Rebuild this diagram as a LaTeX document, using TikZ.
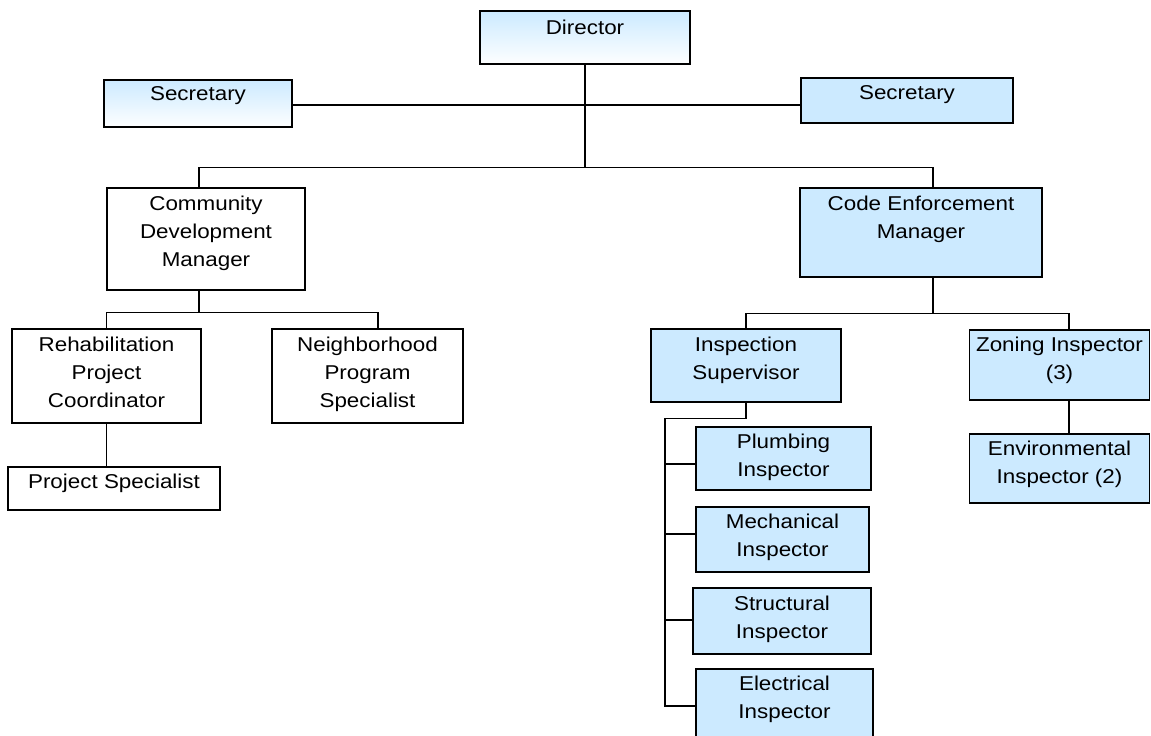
\documentclass[tikz,border=0pt]{standalone}
\usepackage{fontspec}
\setmainfont{Liberation Sans}[FakeStretch=1.12]
\usepackage{tikz}
\usetikzlibrary{positioning, calc}
\usepackage{xcolor}
\definecolor{staffblue}{RGB}{204,234,255}
\tikzset{
  unitbox/.style={draw=black, line width=1.4pt, inner sep=0pt},
  bluebox/.style={unitbox, fill=staffblue},
  fadebox/.style={unitbox, top color=staffblue, bottom color=white!97!staffblue},
  whitebox/.style={unitbox, fill=white},
  boxtext/.style={inner sep=0pt, align=center, font=\fontsize{20}{28}\selectfont},
  link/.style={line width=1.2pt},
}
\begin{document}
\begin{tikzpicture}[x=1pt, y=-1pt]
    \useasboundingbox (0,0) rectangle (1151,736);
    %% top level
    \node[fadebox, minimum width=210pt, minimum height=53pt] (dir) at (585,37.5) {};
    \node[fadebox, minimum width=188pt, minimum height=47pt] (secl) at (198,103.5) {};
    \node[bluebox, minimum width=212pt, minimum height=45pt] (secr) at (907,100.5) {};
    %% managers
    \node[whitebox, minimum width=198pt, minimum height=102pt] (cdm) at (206,239) {};
    \node[bluebox, minimum width=242pt, minimum height=89pt] (cem) at (921,232.5) {};
    %% community development side
    \node[whitebox, minimum width=189pt, minimum height=94pt] (rehab) at (106.5,376) {};
    \node[whitebox, minimum width=191pt, minimum height=94pt] (nbr) at (367.5,376) {};
    \node[whitebox, minimum width=212pt, minimum height=43pt] (ps) at (114,488.5) {};
    %% code enforcement side
    \node[bluebox, minimum width=190pt, minimum height=73pt] (insp) at (746,365.5) {};
    \node[bluebox, minimum width=180pt, minimum height=70pt] (zon) at (1059.5,365) {};
    \node[bluebox, minimum width=180pt, minimum height=69pt] (env) at (1059.5,468.5) {};
    \node[bluebox, minimum width=175pt, minimum height=63pt] (plumb) at (783.5,458.5) {};
    \node[bluebox, minimum width=173pt, minimum height=65pt] (mech) at (782.5,539.5) {};
    \node[bluebox, minimum width=178pt, minimum height=66pt] (struct) at (782,621) {};
    \node[bluebox, minimum width=177pt, minimum height=71pt] (elec) at (784.5,704.5) {};
    %% texts
    \node[boxtext, below=10pt of dir.north] (dirtext) {Director};
    \node[boxtext, below=7.5pt of secl.north] (secltext) {Secretary};
    \node[boxtext, below=8pt of secr.north] (secrtext) {Secretary};
    \node[boxtext, below=9pt of cdm.north] (cdmtext) {Community\\Development\\Manager};
    \node[boxtext, below=9pt of cem.north] (cemtext) {Code Enforcement\\Manager};
    \node[boxtext, below=9pt of rehab.north] (rehabtext) {Rehabilitation\\Project\\Coordinator};
    \node[boxtext, below=9pt of nbr.north] (nbrtext) {Neighborhood\\Program\\Specialist};
    \node[boxtext, below=8pt of ps.north] (pstext) {Project Specialist};
    \node[boxtext, below=9pt of insp.north] (insptext) {Inspection\\Supervisor};
    \node[boxtext, below=8pt of zon.north] (zontext) {Zoning Inspector\\(3)};
    \node[boxtext, below=8pt of env.north] (envtext) {Environmental\\Inspector (2)};
    \node[boxtext, below=8pt of plumb.north] (plumbtext) {Plumbing\\Inspector};
    \node[boxtext, below=8pt of mech.north] (mechtext) {Mechanical\\Inspector};
    \node[boxtext, below=8pt of struct.north] (structtext) {Structural\\Inspector};
    \node[boxtext, below=7pt of elec.north] (electext) {Electrical\\Inspector};
    %% connectors
    \draw[link] ([yshift=-1.5pt]secl.east) -- ([yshift=-4.5pt]secr.west);
    \draw[link] (dir.south) -- ++(0,103) coordinate (tophub);
    \draw[link] ([xshift=-7pt]cdm.north) |- (tophub) -| ([xshift=12pt]cem.north);
    \draw[link] ([xshift=-7pt]cdm.south) -- ++(0,22) coordinate (cdmhub);
    \draw[link] (rehab.north) |- (cdmhub) -| ([xshift=10.5pt]nbr.north);
    \draw[link] (rehab.south) -- (rehab.south |- ps.north);
    \draw[link] ([xshift=12pt]cem.south) -- ++(0,36) coordinate (cemhub);
    \draw[link] (insp.north) |- (cemhub) -| ([xshift=9.5pt]zon.north);
    \draw[link] ([xshift=9.5pt]zon.south) -- ([xshift=9.5pt]env.north);
    \draw[link] (insp.south) -- ++(0,16) -- ++(-81,0) coordinate (bus)
      |- ([yshift=-1.5pt]elec.west);
    \draw[link] ([yshift=-5.5pt]plumb.west) -- ([yshift=-5.5pt]plumb.west -| bus);
    \draw[link] ([yshift=5.5pt]mech.west) -- ([yshift=5.5pt]mech.west -| bus);
    \draw[link] ([yshift=1pt]struct.west) -- ([yshift=1pt]struct.west -| bus);
  \end{tikzpicture}
\end{document}
